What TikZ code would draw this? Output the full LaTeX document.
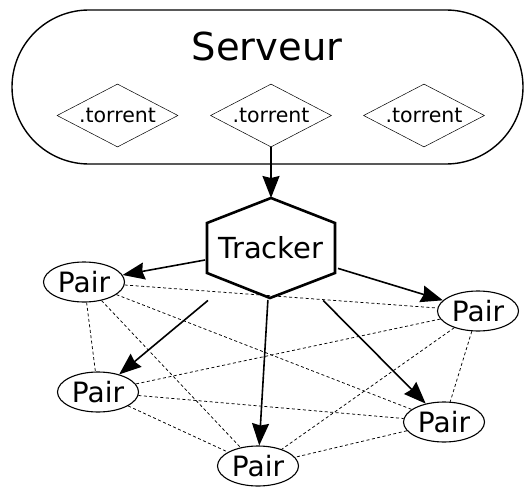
\documentclass[tikz,border=0pt]{standalone}
\usepackage{fontspec}
\setmainfont{DejaVu Sans}
\usetikzlibrary{shapes.geometric,shapes.misc,arrows.meta}
\begin{document}
\begin{tikzpicture}[x=1pt,y=-1pt,
  serverbox/.style={draw,line width=1.4pt,rounded rectangle,minimum width=511pt,minimum height=154pt,inner sep=0pt},
  torrentbox/.style={draw,line width=0.5pt,diamond,aspect=1.92,minimum width=121pt,minimum height=63pt,inner sep=0pt,font=\fontsize{20.5}{20.5}\selectfont},
  peer/.style={draw,line width=1.1pt,ellipse,minimum width=81pt,minimum height=40pt,inner sep=0pt,font=\fontsize{28}{28}\selectfont},
  arr/.style={line width=1.6pt,-{Stealth[length=22pt,width=17pt,inset=2pt]}},
  peerlink/.style={line width=0.75pt,dash pattern=on 3pt off 2.5pt},
  hexline/.style={line width=2.6pt,line join=miter}]
\useasboundingbox (0,0) rectangle (527,487);
% server
\node[serverbox] (server) at (267.5,87) {};
\node[font=\fontsize{38.5}{38.5}\selectfont,anchor=base] (serverlabel) at (267,60) {Serveur};
\node[torrentbox] (t1) at (117.5,115.5) {.torrent};
\node[torrentbox] (t2) at (271,115.5) {.torrent};
\node[torrentbox] (t3) at (424,115.5) {.torrent};
% tracker
\coordinate (h1) at (271,198);
\coordinate (h2) at (335,223);
\coordinate (h3) at (335,273);
\coordinate (h4) at (270,298);
\coordinate (h5) at (207,273);
\coordinate (h6) at (207,223);
\draw[hexline] (h1) -- (h2) -- (h3) -- (h4) -- (h5) -- (h6) -- cycle;
\node[font=\fontsize{29}{29}\selectfont] (tracker) at (271,248) {Tracker};
% peers
\node[peer] (p1) at (84,282) {Pair};
\node[peer] (p2) at (478,311) {Pair};
\node[peer] (p3) at (98,392) {Pair};
\node[peer] (p4) at (444,422) {Pair};
\node[peer] (p5) at (258,466) {Pair};
% dashed links
\draw[peerlink] (p1) -- (p2);
\draw[peerlink] (p1) -- (p3);
\draw[peerlink] (p1) -- (p4);
\draw[peerlink] (p1) -- (p5);
\draw[peerlink] (p2) -- (p3);
\draw[peerlink] (p2) -- (p4);
\draw[peerlink] (p2) -- (p5);
\draw[peerlink] (p3) -- (p4);
\draw[peerlink] (p3) -- (p5);
\draw[peerlink] (p4) -- (p5);
% arrows
\draw[arr] (t2.south) -- (h1);
\draw[arr,shorten <=67pt] (tracker.center) -- (p1);
\draw[arr,shorten <=70pt] (tracker.center) -- (p2);
\draw[arr,shorten <=82pt] (tracker.center) -- (p3);
\draw[arr,shorten <=74pt] (tracker.center) -- (p4);
\draw[arr,shorten <=52pt] (tracker.center) -- (p5);
\end{tikzpicture}
\end{document}
